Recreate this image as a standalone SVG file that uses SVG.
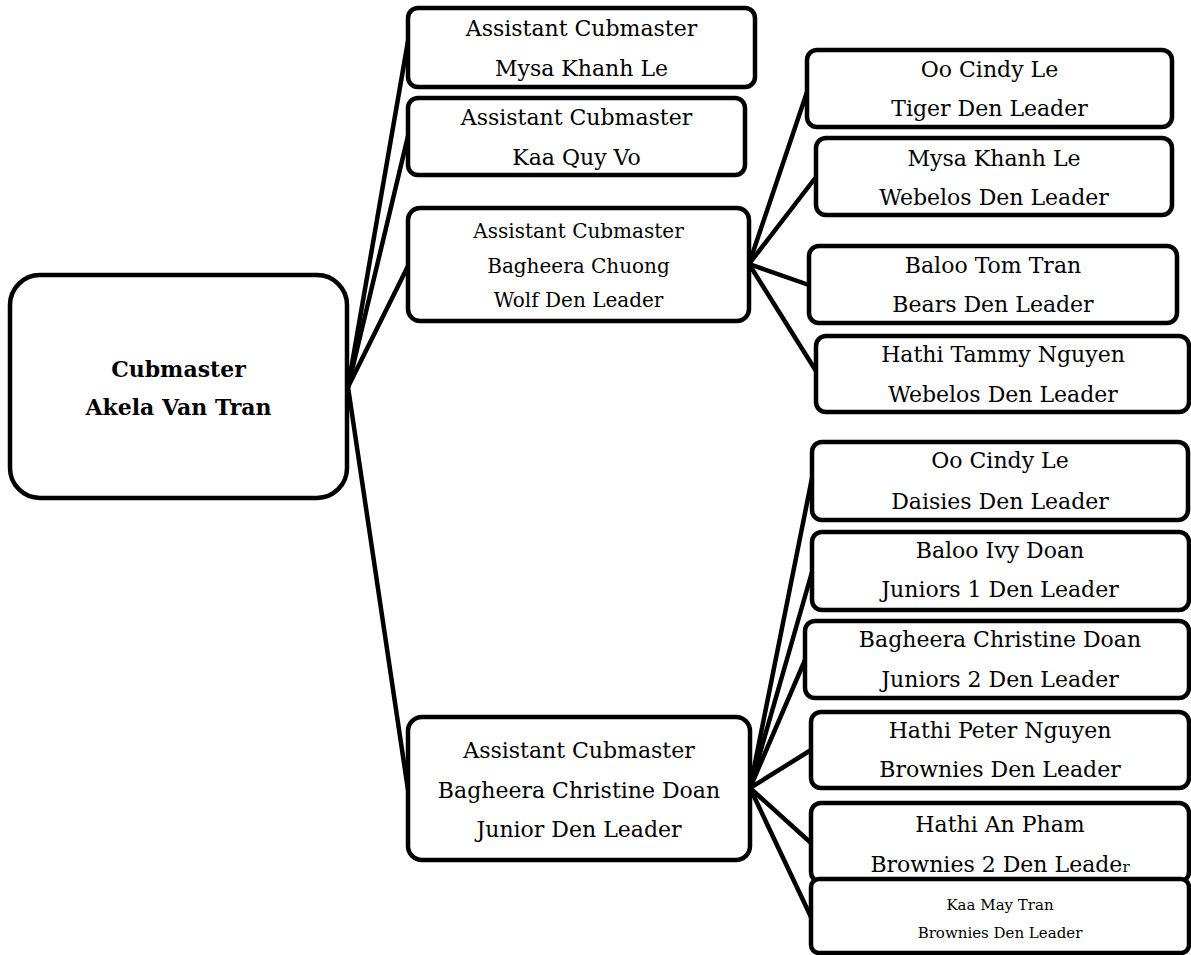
<svg xmlns="http://www.w3.org/2000/svg" width="1191" height="955" viewBox="0 0 1191 955">
<style>
  .box { fill: #ffffff; stroke: #000000; stroke-width: 4.5; }
  .edge { stroke: #000000; stroke-width: 4.5; stroke-linecap: round; fill: none; }
  text { font-family: "DejaVu Serif", "Liberation Serif", serif; fill: #000000; text-anchor: middle; }
  .t22 { font-size: 22px; }
  .t20 { font-size: 20px; }
  .t15 { font-size: 15px; }
  .bold { font-size: 22px; font-weight: bold; }
</style>
<rect width="1191" height="955" fill="#ffffff"/>
<g id="connectors">
  <line class="edge" x1="348" y1="387" x2="408" y2="41"/>
  <line class="edge" x1="348" y1="387" x2="408" y2="136"/>
  <line class="edge" x1="348" y1="387" x2="408" y2="266"/>
  <line class="edge" x1="348" y1="387" x2="408" y2="790"/>
  <line class="edge" x1="749" y1="264" x2="807" y2="92"/>
  <line class="edge" x1="749" y1="264" x2="816" y2="177"/>
  <line class="edge" x1="749" y1="264" x2="809" y2="285"/>
  <line class="edge" x1="749" y1="264" x2="816" y2="371"/>
  <line class="edge" x1="750" y1="788" x2="812" y2="478"/>
  <line class="edge" x1="750" y1="788" x2="812" y2="572"/>
  <line class="edge" x1="750" y1="788" x2="805" y2="660"/>
  <line class="edge" x1="750" y1="788" x2="811" y2="750"/>
  <line class="edge" x1="750" y1="788" x2="811" y2="843"/>
  <line class="edge" x1="750" y1="788" x2="811" y2="917"/>
</g>
<g id="cubmaster">
  <rect class="box" x="10" y="275" width="337" height="223" rx="30"/>
  <text class="bold" x="178.5" y="377">Cubmaster</text>
  <text class="bold" x="178.5" y="415">Akela Van Tran</text>
</g>
<g id="ac-mysa">
  <rect class="box" x="408" y="8" width="347" height="79" rx="10"/>
  <text class="t22" x="581.5" y="36">Assistant Cubmaster</text>
  <text class="t22" x="581.5" y="76">Mysa Khanh Le</text>
</g>
<g id="ac-kaa">
  <rect class="box" x="408" y="98" width="337" height="77" rx="10"/>
  <text class="t22" x="576.5" y="125">Assistant Cubmaster</text>
  <text class="t22" x="576.5" y="165">Kaa Quy Vo</text>
</g>
<g id="ac-bagheera-chuong">
  <rect class="box" x="408" y="208" width="341" height="113" rx="12"/>
  <text class="t20" x="578.5" y="238">Assistant Cubmaster</text>
  <text class="t20" x="578.5" y="273">Bagheera Chuong</text>
  <text class="t20" x="578.5" y="307">Wolf Den Leader</text>
</g>
<g id="ac-bagheera-christine">
  <rect class="box" x="408" y="717" width="342" height="143" rx="14"/>
  <text class="t22" x="579" y="758">Assistant Cubmaster</text>
  <text class="t22" x="579" y="798">Bagheera Christine Doan</text>
  <text class="t22" x="579" y="837">Junior Den Leader</text>
</g>
<g id="tiger">
  <rect class="box" x="807" y="50" width="365" height="77" rx="10"/>
  <text class="t22" x="989.5" y="77">Oo Cindy Le</text>
  <text class="t22" x="989.5" y="116">Tiger Den Leader</text>
</g>
<g id="webelos-mysa">
  <rect class="box" x="816" y="138" width="356" height="77" rx="10"/>
  <text class="t22" x="994" y="166">Mysa Khanh Le</text>
  <text class="t22" x="994" y="205">Webelos Den Leader</text>
</g>
<g id="bears-baloo">
  <rect class="box" x="809" y="246" width="368" height="77" rx="10"/>
  <text class="t22" x="993" y="273">Baloo Tom Tran</text>
  <text class="t22" x="993" y="312">Bears Den Leader</text>
</g>
<g id="webelos-hathi">
  <rect class="box" x="816" y="336" width="373" height="76" rx="10"/>
  <text class="t22" x="1003" y="362">Hathi Tammy Nguyen</text>
  <text class="t22" x="1003" y="402">Webelos Den Leader</text>
</g>
<g id="daisies">
  <rect class="box" x="812" y="442" width="376" height="78" rx="10"/>
  <text class="t22" x="1000" y="468">Oo Cindy Le</text>
  <text class="t22" x="1000" y="509">Daisies Den Leader</text>
</g>
<g id="juniors1">
  <rect class="box" x="812" y="532" width="377" height="78" rx="10"/>
  <text class="t22" x="1000" y="558">Baloo Ivy Doan</text>
  <text class="t22" x="1000" y="597">Juniors 1 Den Leader</text>
</g>
<g id="juniors2">
  <rect class="box" x="805" y="621" width="384" height="77" rx="10"/>
  <text class="t22" x="1000" y="647">Bagheera Christine Doan</text>
  <text class="t22" x="1000" y="687">Juniors 2 Den Leader</text>
</g>
<g id="brownies-peter">
  <rect class="box" x="811" y="712" width="378" height="76" rx="10"/>
  <text class="t22" x="1000" y="738">Hathi Peter Nguyen</text>
  <text class="t22" x="1000" y="777">Brownies Den Leader</text>
</g>
<g id="brownies2-an">
  <rect class="box" x="811" y="803" width="378" height="79" rx="10"/>
  <text class="t22" x="1000" y="832">Hathi An Pham</text>
  <text class="t22" x="1000" y="872">Brownies 2 Den Leade<tspan style="font-size:15px">r</tspan></text>
</g>
<g id="brownies-kaa">
  <rect class="box" x="811" y="879" width="378" height="74" rx="8"/>
  <text class="t15" x="1000" y="910">Kaa May Tran</text>
  <text class="t15" x="1000" y="938">Brownies Den Leader</text>
</g>
</svg>
